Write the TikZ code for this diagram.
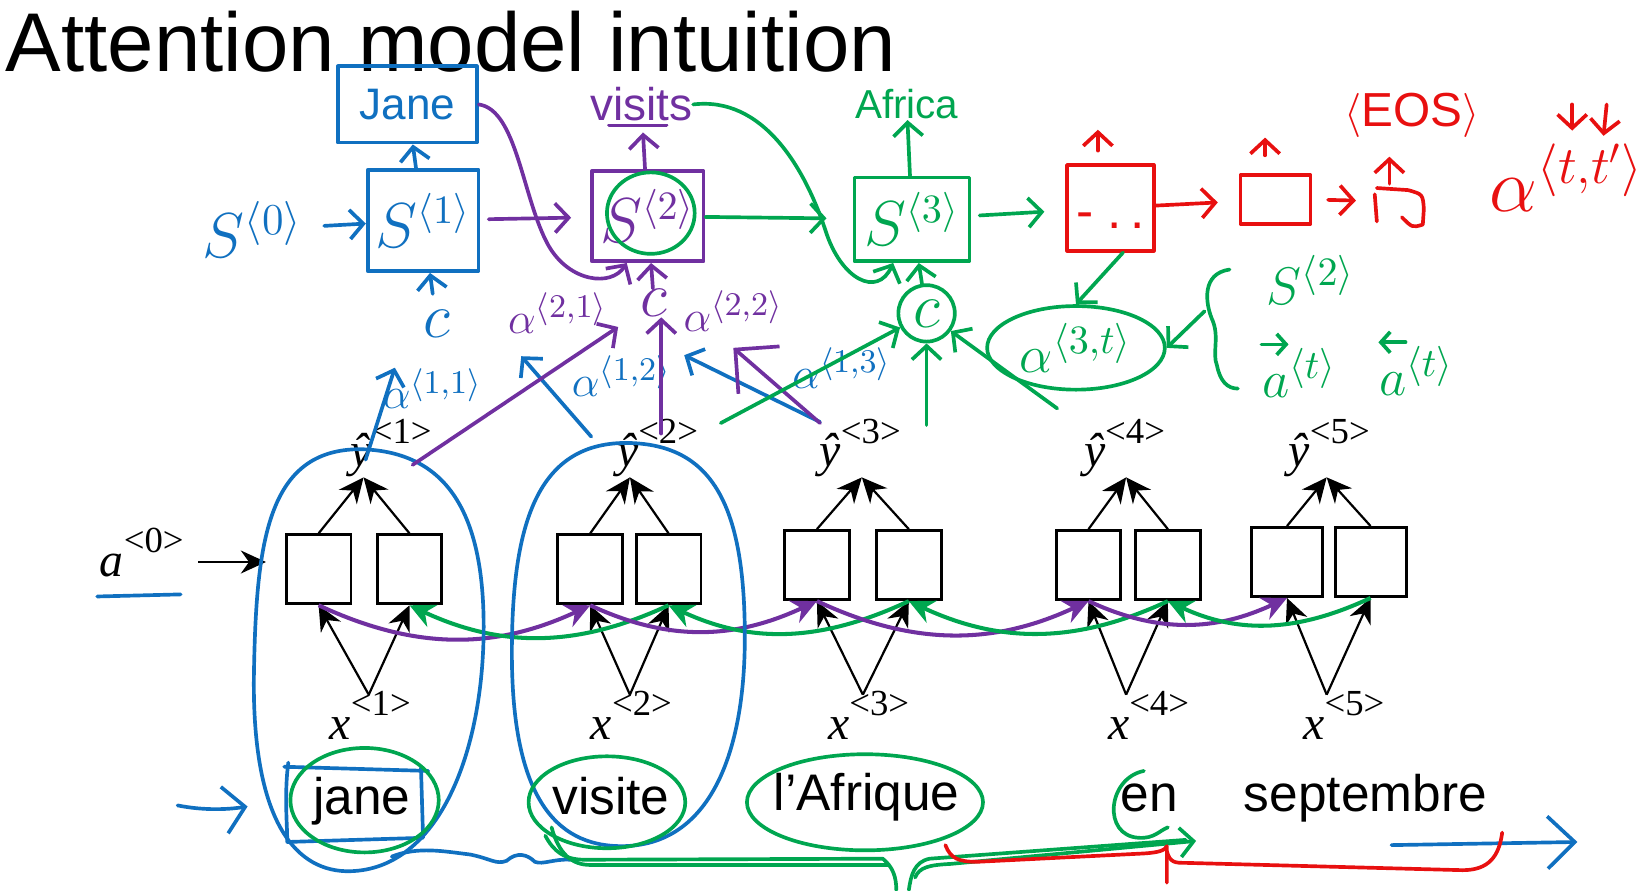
\documentclass[tikz,border=0pt]{standalone}
\usepackage{fontspec}
\setmainfont{Liberation Sans}
\newfontfamily\tnr{Liberation Serif}
\usetikzlibrary{positioning,arrows.meta,shapes.geometric}

\definecolor{penblue}{RGB}{16,112,192}
\definecolor{penpurple}{RGB}{112,48,160}
\definecolor{pengreen}{RGB}{0,166,80}
\definecolor{penred}{RGB}{232,16,16}

% label like x^<1> in Times
\newcommand{\seqlab}[2]{{\tnr\itshape #1}\raisebox{0.5em}{\tnr\fontsize{10}{10}\selectfont <#2>}}

\tikzset{
  cell/.style={draw,line width=0.8pt,minimum width=0.62cm,minimum height=0.66cm,inner sep=0pt},
  seq/.style={font=\fontsize{13}{15}\selectfont,inner sep=0pt},
  word/.style={font=\fontsize{14}{16}\selectfont,inner sep=0pt,anchor=base west},
  tip/.style={line width=0.6pt,-{Stealth[length=2.4mm,width=2.2mm]}},
  arc/.style={line width=1.1pt,-{Stealth[length=2.4mm,width=2.3mm]}},
  ink/.style={line width=1pt,line cap=round,line join=round},
  pen/.style={ink,-{Straight Barb[length=1.3mm,width=2.8mm]}},
  handbox/.style={ink,draw,inner sep=0pt},
  note/.style={inner sep=0pt,font=\fontsize{13}{15}\selectfont}
}

\begin{document}
\begin{tikzpicture}[x=0.01cm,y=-0.01cm]
\useasboundingbox (0,0) rectangle (1568,852);

\node[anchor=base west,inner sep=0pt,text depth=0pt,font=\fontsize{22.7}{26}\selectfont] (title) at (5,68) {Attention model intuition};

% bidirectional encoder
\foreach \i/\xa/\xb/\yy/\w/\xt/\xp/\gl/\xl in {
  1/305/392/545/0.62cm/348/353/335/315,
  2/565/640/545/0.62cm/603/603/590/565,
  3/782/870/541/0.62cm/825/826/784/792,
  4/1042/1118/541/0.62cm/1078/1078/1037/1060,
  5/1232/1312/538/0.68cm/1270/1270/1233/1247}{
  \node[cell,minimum width=\w] (f\i) at (\xa,\yy) {};
  \node[cell,minimum width=\w] (b\i) at (\xb,\yy) {};
  \coordinate (t\i) at (\xt,457);
  \coordinate (p\i) at (\xp,665);
  \node[seq,anchor=base west] (yh\i) at (\gl,447) {\seqlab{ŷ}{\i}};
  \node[seq,anchor=base west] (x\i) at (\xl,708) {\seqlab{x}{\i}};
  \draw[tip] (f\i.north) -- (t\i);
  \draw[tip] (b\i.north) -- (t\i);
  \draw[tip] (p\i) -- (f\i.south);
  \draw[tip] (p\i) -- (b\i.south);
}
\foreach \i/\j in {1/2,2/3,3/4,4/5}{
  \draw[arc,penpurple] (f\i.south) to[out=-25,in=-155] (f\j.south);
  \draw[arc,pengreen] (b\j.south) to[out=-155,in=-25] (b\i.south);
}

\node[seq,anchor=base west] (a0) at (95,552) {\seqlab{a}{0}};
\coordinate (a0e) at (190,538);
\draw[tip,shorten >=0.18cm] (a0e) -- (a0e -| f1.west);

% source sentence
\node[word] (w1) at (299,780) {jane};
\node[word] (w2) at (528,780) {visite};
\node[word] (w3) at (740,776) {l’Afrique};
\node[word] (w4) at (1072,777) {en};
\node[word] (w5) at (1190,777) {septembre};

% ---- blue ink
\draw[ink,penblue] (93,571) -- (173,569);
\draw[ink,penblue] (345,430) .. controls (255,430) and (245,520) .. (243,650)
  .. controls (242,790) and (285,835) .. (335,834) .. controls (420,832) and (463,720) .. (463,600)
  .. controls (463,480) and (420,432) .. (345,430);
\draw[ink,penblue] (598,424) .. controls (515,425) and (490,500) .. (490,625)
  .. controls (490,760) and (530,810) .. (595,810) .. controls (680,810) and (713,720) .. (713,610)
  .. controls (713,480) and (680,424) .. (598,424);
\draw[ink,penblue] (272,734) -- (410,738) (276,730) .. controls (272,760) and (275,790) .. (275,806) -- (405,802) -- (403,735);
\draw[ink,penblue,-{Straight Barb[length=2mm,width=4.5mm]}] (170,771) .. controls (195,776) and (218,775) .. (237,772);
\draw[ink,penblue] (375,820) .. controls (400,810) and (425,815) .. (450,818) .. controls (470,822) and (475,828) .. (485,824)
  .. controls (495,815) and (505,818) .. (512,825) .. controls (520,828) and (530,822) .. (546,823);
\draw[ink,penblue,-{Straight Barb[length=2.6mm,width=5mm]}] (1332,809) -- (1510,806);

\node[handbox,penblue,minimum width=1.33cm,minimum height=0.73cm,font=\fontsize{12}{14}\selectfont] (jane) at (390,100) {Jane};
\node[handbox,penblue,minimum width=1.06cm,minimum height=0.97cm,font=\fontsize{16}{18}\selectfont] (s1) at (405,211) {$S^{\langle 1\rangle}$};
\node[note,penblue,font=\fontsize{18}{20}\selectfont] (s0) at (242,220) {$S^{\langle 0\rangle}$};
\node[note,penblue,font=\fontsize{16}{18}\selectfont] (c1) at (418,310) {$c$};
\node[note,penblue] (a11) at (414,372) {$\alpha^{\langle 1,1\rangle}$};
\node[note,penblue] (a12) at (595,360) {$\alpha^{\langle 1,2\rangle}$};
\node[note,penblue] (a13) at (806,352) {$\alpha^{\langle 1,3\rangle}$};
\draw[pen,penblue,shorten <=0.2cm] (s0) -- (s1);
\draw[pen,penblue,shorten <=0.15cm] (c1) -- (s1);
\draw[pen,penblue] (s1) -- (jane);
\coordinate (u1) at (350,440);
\coordinate (u2) at (378,352);
\coordinate (u3) at (566,418);
\coordinate (u4) at (499,341);
\coordinate (u5) at (785,404);
\coordinate (u6) at (655,340);
\draw[pen,penblue] (u1) -- (u2);
\draw[pen,penblue] (u3) -- (u4);
\draw[pen,penblue] (u5) -- (u6);

% ---- purple ink
\node[handbox,penpurple,minimum width=1.07cm,minimum height=0.86cm,font=\fontsize{16}{18}\selectfont] (s2) at (620,207) {$S^{\langle 2\rangle}$};
\node[note,penpurple,font=\fontsize{12.5}{15}\selectfont] (visits) at (614,100) {visits};
\draw[ink,penpurple] (583,120) -- (638,120);
\node[note,penpurple,font=\fontsize{16}{18}\selectfont] (c2) at (626,290) {$c$};
\node[note,penpurple] (a21) at (534,300) {$\alpha^{\langle 2,1\rangle}$};
\node[note,penpurple] (a22) at (702,298) {$\alpha^{\langle 2,2\rangle}$};
\draw[pen,penpurple,shorten >=0.1cm] (s2) -- (visits);
\draw[pen,penpurple,shorten <=0.08cm,shorten >=0.18cm] (s1) -- (s2);
\draw[pen,penpurple] (jane.east) .. controls (495,105) and (500,190) .. (525,235)
  .. controls (545,270) and (585,275) .. ([xshift=-0.2cm]s2.south);
\draw[pen,penpurple] (c2) -- (s2);
\coordinate (v1) at (395,445);
\coordinate (v2) at (633,415);
\coordinate (v3) at (785,405);
\coordinate (v4) at (702,333);
\draw[pen,penpurple,shorten >=0.25cm] (v1) -- (c2);
\draw[pen,penpurple] (v2) -- (v2 |- c2.south);
\draw[ink,penpurple,-{Straight Barb[length=3mm,width=6mm]}] (v3) -- (v4);

% ---- green ink
\draw[ink,pengreen] (623,204) ellipse [x radius=42,y radius=39];
\node[handbox,pengreen,minimum width=1.10cm,minimum height=0.80cm,font=\fontsize{16}{18}\selectfont] (s3) at (873,210) {$S^{\langle 3\rangle}$};
\node[note,pengreen,font=\fontsize{11}{13}\selectfont] (africa) at (868,100) {Africa};
\node[handbox,pengreen,circle,minimum size=0.54cm,font=\fontsize{16}{18}\selectfont] (c3) at (887,300) {$c$};
\node[handbox,pengreen,ellipse,minimum width=1.7cm,minimum height=0.8cm,font=\fontsize{15}{17}\selectfont] (att) at (1030,333) {$\alpha^{\langle 3,t\rangle}$};
\draw[pen,pengreen] (s3) -- (africa);
\draw[pen,pengreen,shorten >=0.25cm] (s2) -- (s3);
\draw[pen,pengreen] (visits.east) .. controls (730,92) and (770,160) .. (790,220)
  .. controls (805,268) and (840,285) .. ([xshift=-0.18cm]s3.south);
\draw[pen,pengreen] (c3) -- (s3);
\coordinate (g1) at (690,405);
\coordinate (g2) at (887,407);
\coordinate (g3) at (1012,391);
\draw[pen,pengreen] (g1) -- (c3);
\draw[pen,pengreen] (g2) -- (c3);
\draw[pen,pengreen] (g3) -- (c3);
\draw[ink,pengreen] (1177,258) .. controls (1150,262) and (1154,290) .. (1160,305)
  .. controls (1168,322) and (1160,338) .. (1165,350) .. controls (1168,365) and (1175,372) .. (1185,372);
\coordinate (br) at (1153,298);
\draw[pen,pengreen] (br) -- (att.east);
\node[note,pengreen,font=\fontsize{15}{17}\selectfont] (s2b) at (1255,268) {$S^{\langle 2\rangle}$};
\node[note,pengreen,font=\fontsize{15}{17}\selectfont] (fa) at (1244,357) {$a^{\langle t\rangle}$};
\node[note,pengreen,font=\fontsize{15}{17}\selectfont] (ba) at (1356,355) {$a^{\langle t\rangle}$};
\draw[ink,pengreen,-{Straight Barb[length=0.9mm,width=2mm]}] ([yshift=0.03cm]fa.north west) -- ++(26,0);
\draw[ink,pengreen,-{Straight Barb[length=0.9mm,width=2mm]}] ([xshift=0.26cm,yshift=0.03cm]ba.north west) -- ++(-26,0);
\draw[ink,pengreen] (349,766) ellipse [x radius=71,y radius=50];
\draw[ink,pengreen] (581,768) ellipse [x radius=75,y radius=44];
\draw[ink,pengreen] (828,768) ellipse [x radius=113,y radius=46];
\draw[ink,pengreen] (1095,738) .. controls (1060,745) and (1055,800) .. (1090,802) .. controls (1105,803) and (1110,795) .. (1118,792);
\draw[ink,pengreen] (522,800) .. controls (530,815) and (540,823) .. (560,823) -- (845,822) .. controls (855,830) and (858,840) .. (858,852);
\draw[ink,pengreen] (528,792) .. controls (535,818) and (548,828) .. (565,828) -- (850,828);
\draw[ink,pengreen] (870,852) .. controls (872,838) and (875,825) .. (890,822) -- (1135,804);
\draw[pen,pengreen] (876,840) .. controls (880,830) and (890,828) .. (910,827) -- (1145,805);

% ---- red ink
\node[handbox,penred,minimum width=0.83cm,minimum height=0.82cm] (r1) at (1063,199) {};
\node[inner sep=0pt,penred,font=\fontsize{14}{16}\selectfont] (dots) at ([yshift=-0.12cm]r1.center) {- .\,.};
\node[handbox,penred,minimum width=0.67cm,minimum height=0.47cm] (r2) at (1221,191) {};
\node[note,penred,font=\fontsize{13}{15}\selectfont] (eos) at (1352,110) {$\langle$EOS$\rangle$};
\node[note,penred,font=\fontsize{20}{22}\selectfont] (alt) at (1500,170) {$\alpha^{\langle t,t'\rangle}$};
\draw[pen,pengreen] ([xshift=0.12cm]r1.south) -- (att.north);
\draw[pen,pengreen,shorten <=0.08cm,shorten >=0.2cm] (s3) -- (r1);
\draw[pen,penred,shorten >=0.2cm] (r1) -- (r2);
\draw[pen,penred] ([xshift=-0.12cm,yshift=0.12cm]r1.north) -- ++(0,-20);
\draw[pen,penred] ([xshift=-0.1cm,yshift=0.17cm]r2.north) -- ++(0,-17);
\coordinate (r3) at (1298,192);
\draw[pen,penred,shorten <=0.15cm] (r2.east) -- (r3);
\draw[ink,penred] (1316,186) -- (1318,212);
\draw[ink,penred] (1318,180) -- (1348,182) .. controls (1362,186) .. (1363,200) -- (1362,215) .. controls (1352,218) .. (1342,208);
\coordinate (r3top) at (1330,176);
\draw[pen,penred] (r3top) -- ++(0,-26);
\coordinate (d1) at (1505,100);
\coordinate (d2) at (1538,100);
\draw[pen,penred] (d1) -- ++(0,25);
\draw[pen,penred] (d2) -- ++(-3,30);
\draw[ink,penred] (905,809) .. controls (910,822) and (918,825) .. (935,825) -- (1095,817)
  .. controls (1110,816) and (1115,814) .. (1117,810) -- (1117,845);
\draw[ink,penred] (1117,815) .. controls (1120,826) and (1125,826) .. (1135,826) -- (1400,833)
  .. controls (1425,833) and (1435,820) .. (1438,797);
\end{tikzpicture}
\end{document}
